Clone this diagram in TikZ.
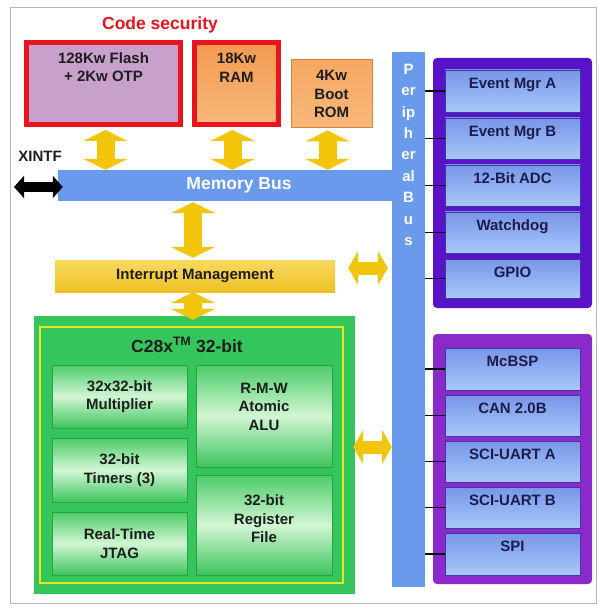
\documentclass[tikz,border=0pt]{standalone}
\usepackage{fontspec}
\setmainfont{Liberation Sans}
\usetikzlibrary{arrows.meta,calc}
\definecolor{secred}{HTML}{E8141E}
\definecolor{flashfill}{HTML}{C8A0CC}
\definecolor{ramtop}{HTML}{F49A50}
\definecolor{rambot}{HTML}{F8B87A}
\definecolor{romfill}{HTML}{F6A862}
\definecolor{romdraw}{HTML}{D08640}
\definecolor{busblue}{HTML}{6A9AEC}
\definecolor{gold}{HTML}{F2C40A}
\definecolor{intrtop}{HTML}{F8DA60}
\definecolor{intrbot}{HTML}{F0C024}
\definecolor{cpugreen}{HTML}{34C65C}
\definecolor{inneryel}{HTML}{E6E61E}
\definecolor{gbdraw}{HTML}{2E9E48}
\definecolor{gbtop}{HTML}{4CCC68}
\definecolor{gbmid}{HTML}{D2F6D4}
\definecolor{gbbot}{HTML}{3CC45C}
\definecolor{grpA}{HTML}{5A12C8}
\definecolor{grpB}{HTML}{8A2ACA}
\definecolor{pbtop}{HTML}{7896E8}
\definecolor{pbbot}{HTML}{A8C8FA}
\definecolor{pbdraw}{HTML}{3A3AA0}
\definecolor{navy}{HTML}{1C1C4C}
\definecolor{darktxt}{HTML}{1E1E1E}
\definecolor{framegray}{HTML}{B8B8B8}
\newcommand\fontA{\bfseries\fontsize{15}{18.5}\selectfont}
\newcommand\fontB{\bfseries\fontsize{17.5}{20}\selectfont}
\begin{document}
\begin{tikzpicture}[x=1pt,y=-1pt,
  memred/.style={draw=secred, line width=5pt, inner sep=0pt},
  bluebox/.style={draw=pbdraw, line width=0.8pt, top color=pbtop, bottom color=pbbot,
     minimum width=135pt, inner sep=0pt},
  plab/.style={label={[anchor=north, yshift=-8pt, inner sep=0pt, font=\fontA, text=navy]north:#1}},
  toplab/.style 2 args={label={[anchor=north, yshift=-#1, inner sep=0pt, align=center, font=\fontA, text=darktxt]north:{#2}}},
  gbox/.style={draw=gbdraw, line width=0.8pt, top color=gbtop, bottom color=gbbot, middle color=gbmid,
     inner sep=0pt, align=center, font=\fontA, text=darktxt},
  yarrowV/.style={draw=gold, line width=18pt, {Triangle[length=11pt,width=44pt]}-{Triangle[length=11pt,width=44pt]}},
  yarrowH/.style={draw=gold, line width=13pt, {Triangle[length=10pt,width=34pt]}-{Triangle[length=10pt,width=34pt]}},
  xarrow/.style={draw=black, line width=10pt, {Triangle[length=10pt,width=22pt]}-{Triangle[length=10pt,width=22pt]}},
  tick/.style={draw=black, line width=1.2pt}
]
\useasboundingbox (0,0) rectangle (598,612);
\fill[white] (0,0) rectangle (598,612);
\draw[framegray, line width=1pt] (10,8) rectangle (596,603);

% memories
\node[font=\fontB, text=secred] (codesec) at (160,25) {Code security};
\node[memred, fill=flashfill, minimum width=154pt, minimum height=82pt,
      toplab={12pt}{128Kw Flash\\+ 2Kw OTP}] (flash) at (103.5,83.5) {};
\node[memred, top color=ramtop, bottom color=rambot, minimum width=84pt, minimum height=82pt,
      toplab={13pt}{18Kw\\RAM}] (ram) at (236.5,83.5) {};
\node[draw=romdraw, line width=1pt, top color=romfill, bottom color=rambot, minimum width=81pt, minimum height=68pt,
      align=center, font=\fontA, text=darktxt, inner sep=0pt] (rom) at (331.5,94) {4Kw\\Boot\\ROM};

% buses
\node[fill=busblue, minimum width=362pt, minimum height=31pt, inner sep=0pt,
      font=\fontB, text=white] (membus) at (239,185.5) {Memory Bus};
\node[fill=busblue, minimum width=33pt, minimum height=535pt, inner sep=0pt,
      label={[anchor=north, yshift=-12pt, inner sep=0pt, align=center, text=white,
              font=\bfseries\fontsize{15}{21.4}\selectfont]north:{P\\er\\ip\\h\\er\\al\\B\\u\\s}}] (pbus) at (408.5,319.5) {};
\node[font=\fontA, text=darktxt] (xintf) at (40,156) {XINTF};

% interrupt management
\node[top color=intrtop, bottom color=intrbot, minimum width=280pt, minimum height=32pt, inner sep=0pt,
      font=\fontA, text=darktxt] (intr) at (195,276) {Interrupt Management};

% CPU
\node[fill=cpugreen, minimum width=321pt, minimum height=278pt, inner sep=0pt] (cpu) at (194.5,455) {};
\draw[inneryel, line width=1.5pt] (40,327) rectangle (343,583);
\node[font=\fontB, text=darktxt] (cputitle) at (187,345) {C28x\textsuperscript{TM} 32-bit};
\node[gbox, minimum width=135pt, minimum height=63pt] (mult) at (119.5,396.5) {32x32-bit\\Multiplier};
\node[gbox, minimum width=135pt, minimum height=64pt] (timers) at (119.5,470) {32-bit\\Timers (3)};
\node[gbox, minimum width=135pt, minimum height=63pt] (jtag) at (119.5,543.5) {Real-Time\\JTAG};
\node[gbox, minimum width=136pt, minimum height=102pt,
      label={[anchor=north, yshift=-18pt, inner sep=0pt, align=center, font=\fontA, text=darktxt]north:{R-M-W\\Atomic\\ALU}}] (alu) at (264,416) {};
\node[gbox, minimum width=136pt, minimum height=100pt,
      label={[anchor=north, yshift=-20pt, inner sep=0pt, align=center, font=\fontA, text=darktxt]north:{32-bit\\Register\\File}}] (regf) at (264,525) {};

% peripheral groups
\node[fill=grpA, rounded corners=4pt, minimum width=159pt, minimum height=250pt, inner sep=0pt] (grpa) at (512.5,183) {};
\node[fill=grpB, rounded corners=4pt, minimum width=159pt, minimum height=250pt, inner sep=0pt] (grpb) at (512.5,459) {};
\node[bluebox, minimum height=42pt, plab={Event Mgr A}] (evA) at (512.5,91) {};
\node[bluebox, minimum height=41pt, plab={Event Mgr B}] (evB) at (512.5,138.5) {};
\node[bluebox, minimum height=41pt, plab={12-Bit ADC}] (adc) at (512.5,185.5) {};
\node[bluebox, minimum height=41pt, plab={Watchdog}] (wdog) at (512.5,232.5) {};
\node[bluebox, minimum height=39pt, plab={GPIO}] (gpio) at (512.5,278.5) {};
\node[bluebox, minimum height=42pt, plab={McBSP}] (mcbsp) at (512.5,369) {};
\node[bluebox, minimum height=41pt, plab={CAN 2.0B}] (can) at (512.5,415.5) {};
\node[bluebox, minimum height=41pt, plab={SCI-UART A}] (scia) at (512.5,461.5) {};
\node[bluebox, minimum height=41pt, plab={SCI-UART B}] (scib) at (512.5,507.5) {};
\node[bluebox, minimum height=42pt, plab={SPI}] (spi) at (512.5,554) {};

\foreach \b in {evA,evB,adc,wdog,gpio,mcbsp,can,scia,scib,spi}
  \draw[tick] (pbus.east |- \b.west) -- (\b.west);

% arrows
\draw[yarrowV, shorten <=3pt] ($(flash.south)+(2,0)$) -- ($(flash.south |- membus.north)+(2,0)$);
\draw[yarrowV, shorten <=3pt] ($(ram.south)+(-4,0)$) -- ($(ram.south |- membus.north)+(-4,0)$);
\draw[yarrowV, shorten <=2pt] ($(rom.south)+(-4,0)$) -- ($(rom.south |- membus.north)+(-4,0)$);
\draw[yarrowV, shorten <=1pt, shorten >=2pt] ($(membus.south -| intr.north)+(-2,0)$) -- ($(intr.north)+(-2,0)$);
\draw[yarrowV] ($(intr.south)+(-2,0)$) -- ($(intr.south |- cpu.north)+(-2,4)$);
\draw[yarrowH, shorten <=13pt, shorten >=4pt] ($(intr.east)+(0,-8)$) -- ($(pbus.west |- intr.east)+(0,-8)$);
\draw[yarrowH, shorten <=-2pt] ($(cpu.east)+(0,-8)$) -- ($(pbus.west |- cpu.east)+(0,-8)$);
\coordinate (xleft) at (14,187);
\draw[xarrow] (xleft) -- ($(membus.west)+(5,1.5)$);
\end{tikzpicture}
\end{document}
